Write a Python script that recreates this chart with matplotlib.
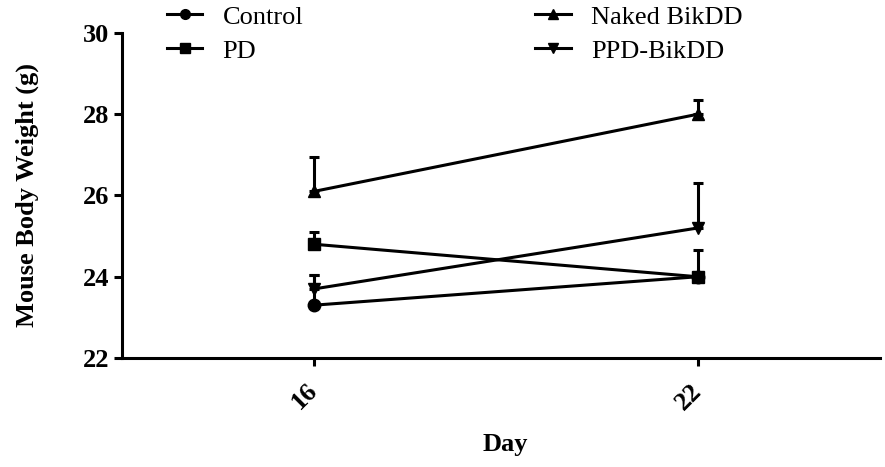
import matplotlib.pyplot as plt
from matplotlib.lines import Line2D

days = [16, 22]
groups = ['Control', 'PD', 'Naked BikDD', 'PPD-BikDD']
markers = ['o', 's', '^', 'v']
weights = [
    [23.3, 24.0],
    [24.8, 24.0],
    [26.1, 28.0],
    [23.7, 25.2],
]
# upper SEM only (GraphPad style)
errors = [
    [0.75, 0.65],
    [0.30, 0.0],
    [0.85, 0.35],
    [0.35, 1.10],
]

plt.rcParams['font.family'] = 'Liberation Serif'

fig = plt.figure(figsize=(8.85, 4.67), dpi=100)
ax = fig.add_axes([0.1379, 0.2334, 0.8565, 0.696])

handles = []
for name, m, w, e in zip(groups, markers, weights, errors):
    ax.errorbar(days, w, yerr=[[0, 0], e], color='black', marker=m, markersize=9,
                linewidth=2.2, elinewidth=2.2, capsize=3.5, capthick=2.2)
    handles.append(Line2D([], [], color='black', marker=m, markersize=7,
                          linewidth=2.2, label=name))

ax.set_xlim(13, 24.85)
ax.set_ylim(22, 30)
ax.set_xticks(days)
ax.set_yticks([22, 24, 26, 28, 30])
ax.spines['top'].set_visible(False)
ax.spines['right'].set_visible(False)
ax.spines['left'].set_linewidth(2.2)
ax.spines['bottom'].set_linewidth(2.2)
ax.tick_params(axis='y', width=2.2, length=6, pad=3, labelsize=19)
ax.tick_params(axis='x', width=2.2, length=6, pad=15, labelsize=19)
for lab in ax.get_xticklabels():
    lab.set_rotation(45)
    lab.set_ha('right')
    lab.set_va('center')
    lab.set_rotation_mode('anchor')
    lab.set_fontweight('bold')
for lab in ax.get_yticklabels():
    lab.set_fontweight('bold')

ax.set_xlabel('Day', fontsize=19, fontweight='bold')
ax.set_ylabel('Mouse Body Weight (g)', fontsize=19, fontweight='bold')
ax.xaxis.set_label_coords(0.505, -0.231)
ax.yaxis.set_label_coords(-0.1095, 0.5)

fig.legend(handles=handles, ncol=2, loc='upper left', bbox_to_anchor=(0.1887, 0.989),
           frameon=False, fontsize=19, columnspacing=8.8, handlelength=1.34,
           handletextpad=0.76, labelspacing=0.4, borderpad=0, borderaxespad=0)

fig.savefig('out.png', dpi=100)
